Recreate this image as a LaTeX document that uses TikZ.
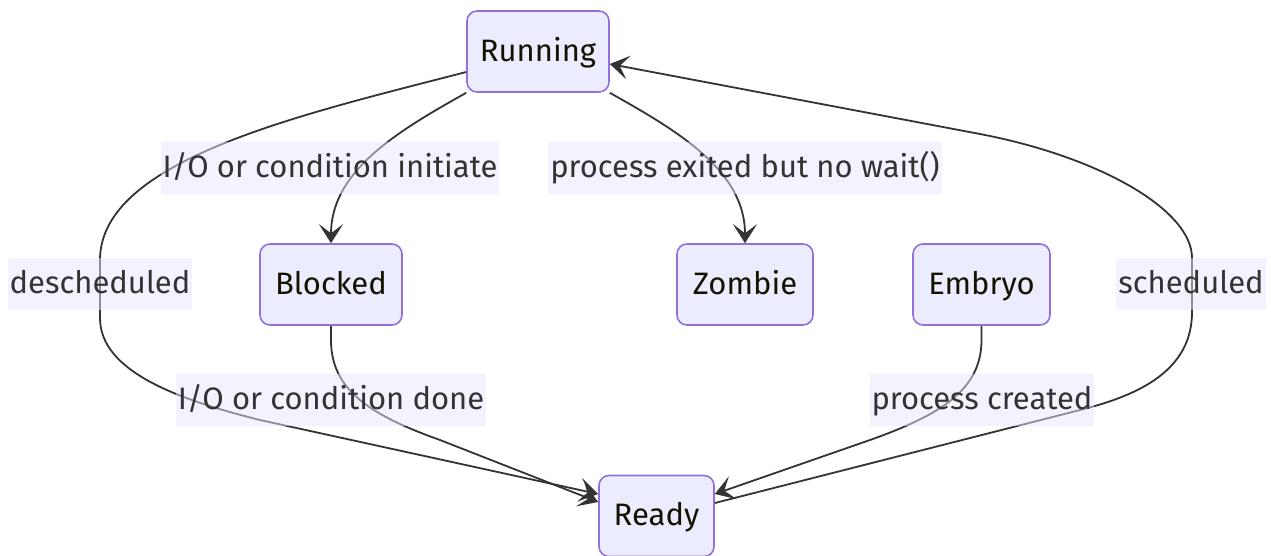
\documentclass[tikz,border=0pt]{standalone}
\usepackage{fontspec}
\setmainfont{Fira Sans}
\usetikzlibrary{arrows.meta}
\definecolor{nodefill}{HTML}{ECECFF}
\definecolor{nodeborder}{HTML}{9370DB}
\definecolor{nodetext}{HTML}{131300}
\definecolor{edgecol}{HTML}{333333}
\definecolor{labelfill}{HTML}{E8E8FF}
\definecolor{labeltext}{HTML}{333333}
\newcommand{\diagfont}{\fontsize{31}{36}\selectfont}
\tikzset{
  state/.style={draw=nodeborder, line width=1.6pt, fill=nodefill, rounded corners=10pt,
    minimum height=81pt, inner xsep=4pt, font=\diagfont, text=nodetext,
    text height=24pt, text depth=5pt},
  edgelabel/.style={fill=labelfill, fill opacity=0.5, text opacity=1, text=labeltext,
    inner xsep=2pt, minimum height=52pt, font=\diagfont, text height=24pt, text depth=5pt},
  flow/.style={draw=edgecol, line width=1.8pt,
    -{Stealth[length=19pt,width=24pt,inset=9pt]}},
}
\begin{document}
\begin{tikzpicture}[x=1pt,y=-1pt]
\useasboundingbox (0,0) rectangle (1271,555);

% states
\node[state, minimum width=142pt] (running) at (538,51.5) {Running};
\node[state, minimum width=142pt] (blocked) at (331,284.5) {Blocked};
\node[state, minimum width=136pt] (zombie)  at (745,284.5) {Zombie};
\node[state, minimum width=137pt] (embryo)  at (981.5,284.5) {Embryo};
\node[state, minimum width=115pt] (ready)   at (656.5,516) {Ready};

% bends of the long transitions
\coordinate (dL1) at (100,260);
\coordinate (dL2) at (100,318);
\coordinate (dL3) at (260,420);
\coordinate (bR1) at (331,340);
\coordinate (bR2) at (440,440);
\coordinate (eR1) at (981.5,340);
\coordinate (eR2) at (870,440);
\coordinate (sR1) at (1080,410);
\coordinate (sR2) at (1192,312);
\coordinate (sR3) at (1192,258);
\coordinate (sR4) at (980,134);

% transitions
\draw[flow] (running.south west) .. controls (400,130) and (331,170) .. (blocked.north);
\draw[flow] (running.south east) .. controls (676,130) and (745,170) .. (zombie.north);
\draw[flow] ([yshift=-20.5pt]running.west) .. controls (300,115) and (100,160) .. (dL1)
  -- (dL2) .. controls (100,372) and (180,400) .. (dL3) -- ([yshift=22pt]ready.west);
\draw[flow] (blocked.south) -- (bR1) .. controls (331,390) and (370,415) .. (bR2)
  -- ([yshift=14pt]ready.west);
\draw[flow] (embryo.south) -- (eR1) .. controls (981.5,390) and (940,415) .. (eR2)
  -- ([yshift=22pt]ready.east);
\draw[flow] ([yshift=13pt]ready.east) -- (sR1) .. controls (1140,395) and (1192,370) .. (sR2)
  -- (sR3) .. controls (1192,210) and (1100,157) .. (sR4) -- ([yshift=-12.5pt]running.east);

% transition labels
\node[edgelabel] (l1) at (330,168) {I/O or condition initiate};
\node[edgelabel] (l2) at (745,168) {process exited but no wait()};
\node[edgelabel] (l3) at (100,284) {descheduled};
\node[edgelabel] (l4) at (331,400) {I/O or condition done};
\node[edgelabel] (l5) at (982,400) {process created};
\node[edgelabel] (l6) at (1191,284) {scheduled};
\end{tikzpicture}
\end{document}
